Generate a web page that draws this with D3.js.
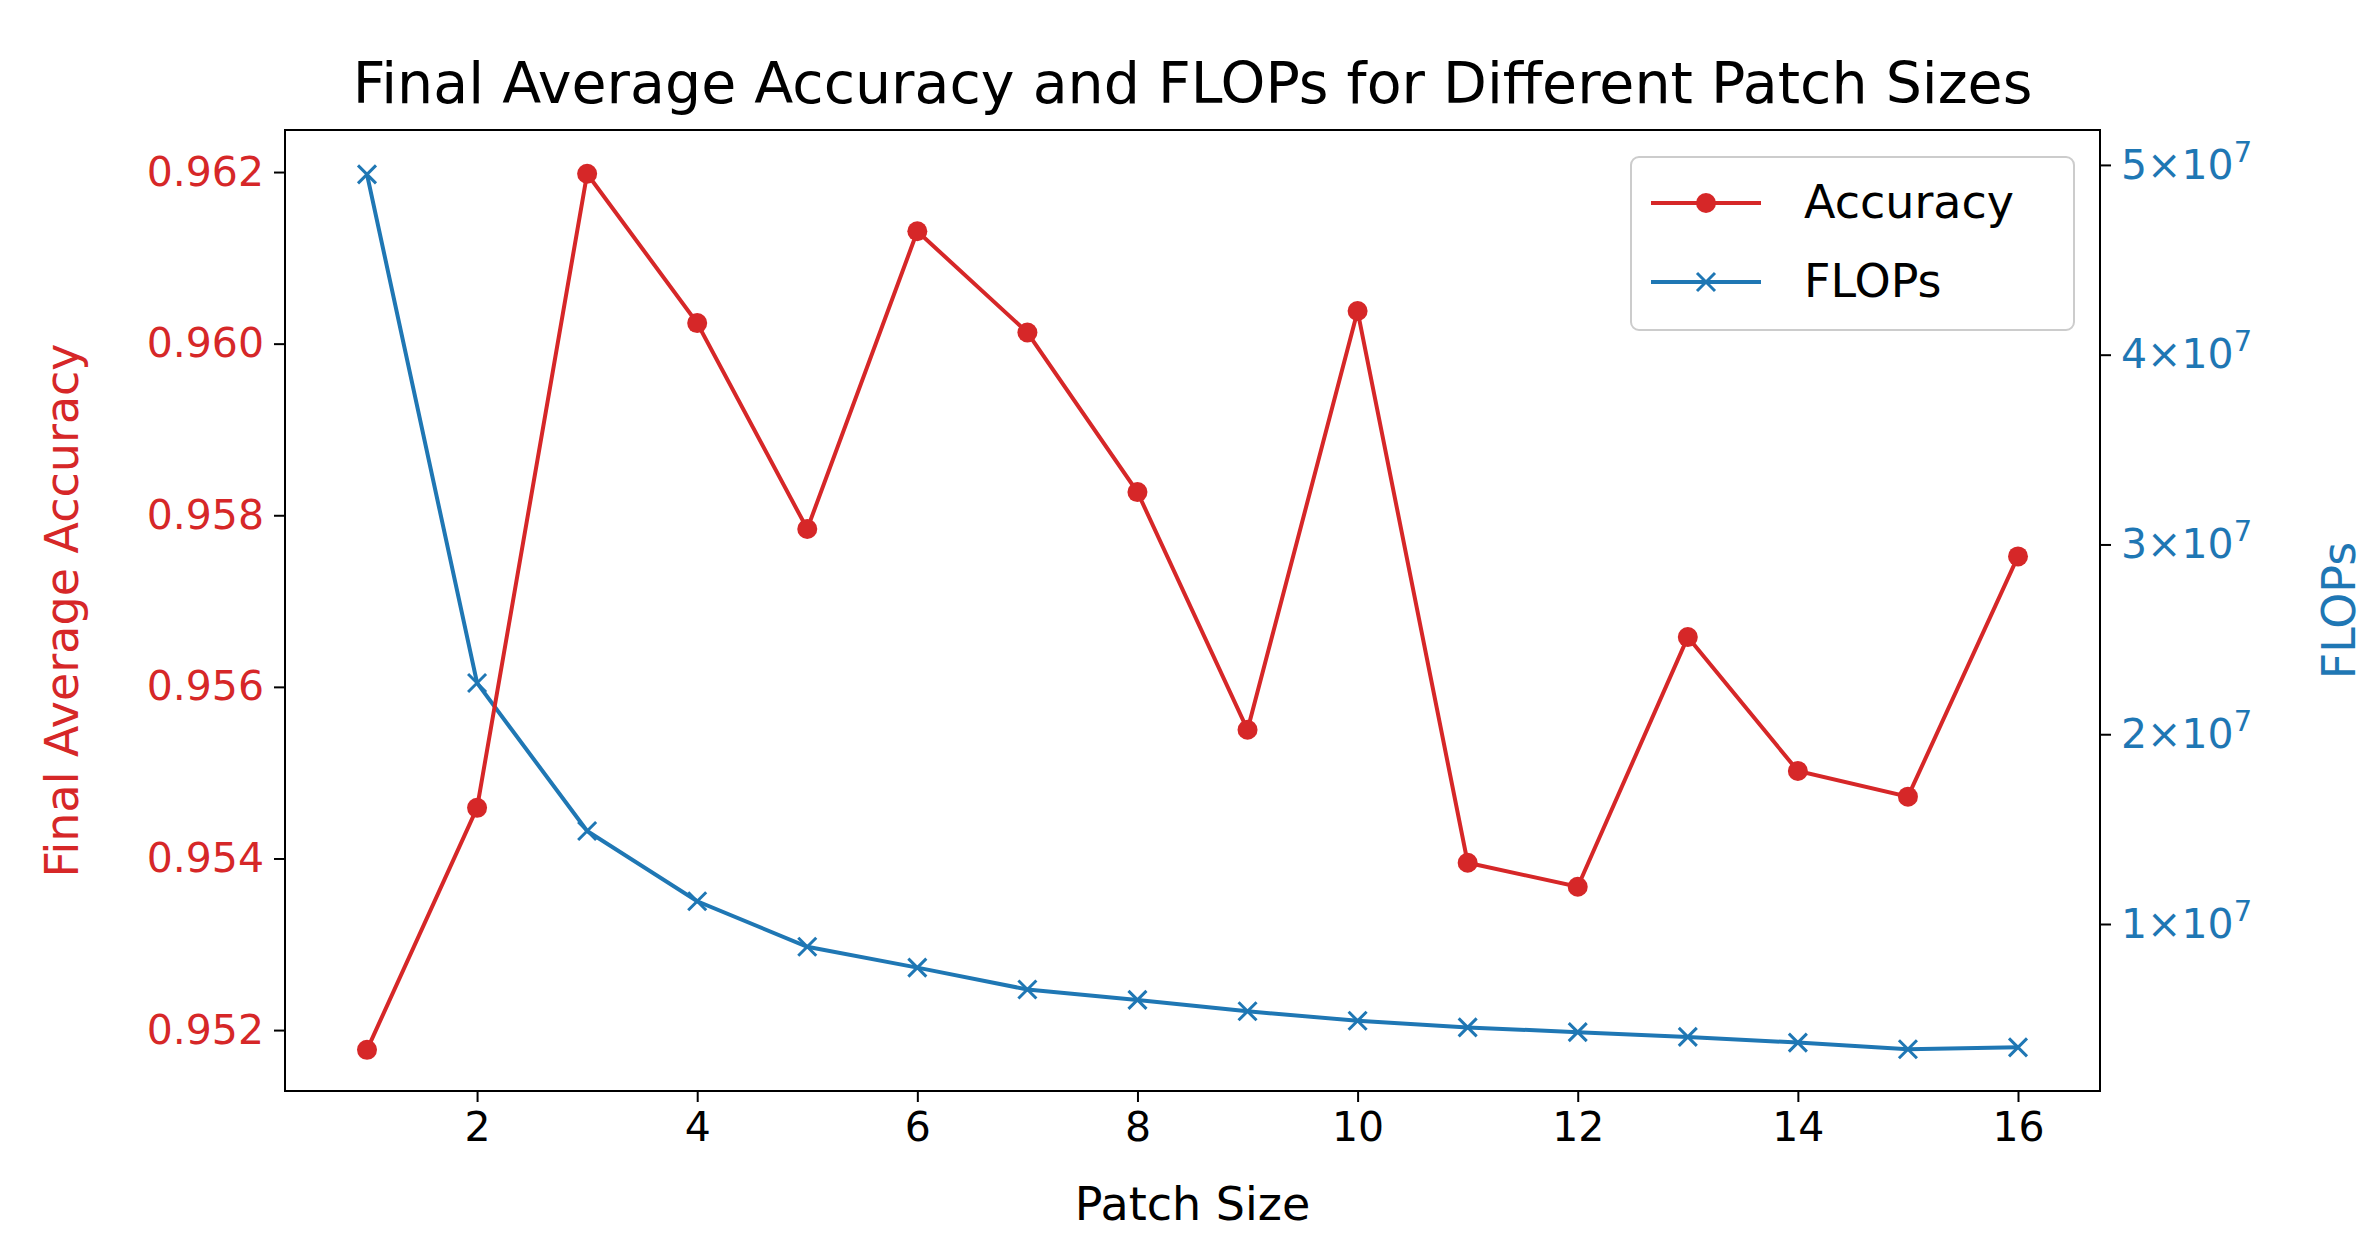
<!DOCTYPE html><html><head><meta charset="utf-8"><script src="https://cdn.jsdelivr.net/npm/d3@7"></script>
<style>body{margin:0;background:#fff}text{font-family:"DejaVu Sans",sans-serif}</style></head><body>
<svg id="c" width="2378" height="1250"></svg>
<script>
const patchSizes=[1,2,3,4,5,6,7,8,9,10,11,12,13,14,15,16];
const accuracy=[0.95177,0.95459,0.96198,0.96024,0.95784,0.96131,0.96013,0.95827,0.9555,0.96038,0.95395,0.95367,0.95658,0.95502,0.95472,0.95752];
const flops=[4.95e7,2.27e7,1.49e7,1.12e7,0.88e7,0.77e7,0.655e7,0.60e7,0.54e7,0.49e7,0.455e7,0.43e7,0.405e7,0.375e7,0.34e7,0.35e7];
const xTicks=[2,4,6,8,10,12,14,16];
const accTicks=[0.952,0.954,0.956,0.958,0.960,0.962];
const flopTicks=[1e7,2e7,3e7,4e7,5e7];
const red="#d62728",blue="#1f77b4";
const L=285,R=2100,T=130,B=1091;
const svg=d3.select("#c");
const x=d3.scaleLinear().domain([0.255,16.745]).range([L,R]);
const yA=d3.scaleLinear().domain([0.95129,0.96249]).range([B,T]);
const yF=d3.scaleLinear().domain([0.12e7,5.184e7]).range([B,T]);
const fs=41;
const gx=svg.append("g").attr("transform",`translate(0,${B})`).call(d3.axisBottom(x).tickValues(xTicks).tickFormat(d3.format("d")).tickSize(11).tickPadding(10));
gx.selectAll("text").attr("font-size",fs).attr("fill","#000").style("font-family","DejaVu Sans");
const gl=svg.append("g").attr("transform",`translate(${L},0)`).call(d3.axisLeft(yA).tickValues(accTicks).tickFormat(d3.format(".3f")).tickSize(11).tickPadding(10));
gl.selectAll("text").attr("font-size",fs).attr("fill",red).style("font-family","DejaVu Sans");
const gr=svg.append("g").attr("transform",`translate(${R},0)`).call(d3.axisRight(yF).tickValues(flopTicks).tickSize(11).tickPadding(10).tickFormat(""));
gr.selectAll(".tick text").each(function(d){const t=d3.select(this);t.text(null).attr("font-size",fs).attr("fill",blue).style("font-family","DejaVu Sans");
 t.append("tspan").text(`${d/1e7}×10`);t.append("tspan").text("7").attr("font-size",29).attr("dy",-17);});
[gx,gl,gr].forEach(g=>{g.selectAll("line").attr("stroke","#000").attr("stroke-width",2);g.select(".domain").remove();});
svg.append("rect").attr("x",L).attr("y",T).attr("width",R-L).attr("height",B-T).attr("fill","none").attr("stroke","#000").attr("stroke-width",2);
// lines
const la=d3.line().x((d,i)=>x(patchSizes[i])).y(d=>yA(d));
const lf=d3.line().x((d,i)=>x(patchSizes[i])).y(d=>yF(d));
svg.append("path").attr("d",lf(flops)).attr("fill","none").attr("stroke",blue).attr("stroke-width",4);
svg.selectAll(".fx").data(flops).enter().append("path").attr("transform",(d,i)=>`translate(${x(patchSizes[i])},${yF(d)})`).attr("d","M-9,-9L9,9M-9,9L9,-9").attr("stroke",blue).attr("stroke-width",3);
svg.append("path").attr("d",la(accuracy)).attr("fill","none").attr("stroke",red).attr("stroke-width",4);
svg.selectAll(".ac").data(accuracy).enter().append("circle").attr("cx",(d,i)=>x(patchSizes[i])).attr("cy",d=>yA(d)).attr("r",10).attr("fill",red);
// title & labels
svg.append("text").attr("x",(L+R)/2).attr("y",103).attr("text-anchor","middle").attr("font-size",57).text("Final Average Accuracy and FLOPs for Different Patch Sizes");
svg.append("text").attr("x",(L+R)/2).attr("y",1220).attr("text-anchor","middle").attr("font-size",46).text("Patch Size");
svg.append("text").attr("transform",`translate(78,${(T+B)/2}) rotate(-90)`).attr("text-anchor","middle").attr("font-size",46).attr("fill",red).text("Final Average Accuracy");
svg.append("text").attr("transform",`translate(2355,${(T+B)/2}) rotate(-90)`).attr("text-anchor","middle").attr("font-size",46).attr("fill",blue).text("FLOPs");
// legend
const lg=svg.append("g").attr("transform","translate(1631,157)");
lg.append("rect").attr("width",443).attr("height",173).attr("rx",8).attr("fill","#fff").attr("stroke","#ccc").attr("stroke-width",2);
lg.append("line").attr("x1",20).attr("x2",130).attr("y1",46).attr("y2",46).attr("stroke",red).attr("stroke-width",4);
lg.append("circle").attr("cx",75).attr("cy",46).attr("r",10).attr("fill",red);
lg.append("text").attr("x",173).attr("y",61).attr("font-size",46).text("Accuracy");
lg.append("line").attr("x1",20).attr("x2",130).attr("y1",125).attr("y2",125).attr("stroke",blue).attr("stroke-width",4);
lg.append("path").attr("transform","translate(75,125)").attr("d","M-9,-9L9,9M-9,9L9,-9").attr("stroke",blue).attr("stroke-width",3);
lg.append("text").attr("x",173).attr("y",140).attr("font-size",46).text("FLOPs");
</script></body></html>
